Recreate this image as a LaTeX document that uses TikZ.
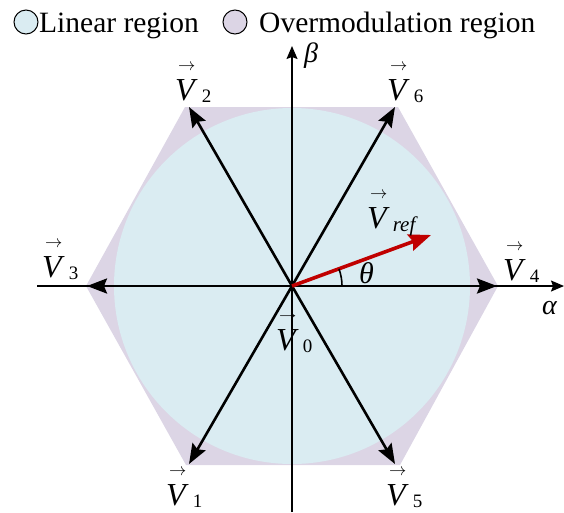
\documentclass[tikz,border=0pt]{standalone}
\usepackage{fontspec}
\setmainfont{Liberation Serif}
\usetikzlibrary{arrows.meta}
\definecolor{linblue}{RGB}{218,236,242}
\definecolor{ovpurple}{RGB}{220,213,229}
\definecolor{vred}{RGB}{192,0,0}
\newcommand\vecarrow{\rlap{\hspace{3pt}\raisebox{30pt}{\fontsize{18}{18}\selectfont$\rightarrow$}}}
\newcommand\vlab[1]{\vecarrow\textit{V}\hspace{4pt}\raisebox{-2pt}{\fontsize{19}{19}\selectfont #1}}
\begin{document}
\begin{tikzpicture}[x=1pt,y=-1pt,font=\fontsize{32}{32}\selectfont,
  vecline/.style={line width=2.6pt,-{Stealth[length=20pt,width=15pt,inset=3pt]}},
  axisline/.style={line width=1.4pt,-{Stealth[length=13pt,width=11pt,inset=2pt]}},
  lab/.style={inner sep=0pt,anchor=base west},
  legtext/.style={inner sep=0pt,anchor=base west,font=\fontsize{29.5}{30}\selectfont},
  legmark/.style={circle,draw,line width=1pt,minimum size=24pt,inner sep=0pt}]
\useasboundingbox (0,0) rectangle (564,512);
% hexagon and circle
\coordinate (O) at (292,286);
\coordinate (H4) at (498,286);
\coordinate (H6) at (398,107);
\coordinate (H2) at (185,107);
\coordinate (H3) at (86,286);
\coordinate (H1) at (186,465);
\coordinate (H5) at (400,465);
\fill[ovpurple] (H4)--(H6)--(H2)--(H3)--(H1)--(H5)--cycle;
\fill[linblue] (O) circle[radius=178];
% axes
\coordinate (AL) at (37,286);
\coordinate (AR) at (564,286);
\coordinate (BB) at (292,512);
\coordinate (BT) at (292,46);
\draw[axisline] (AL) -- (AR);
\draw[axisline] (BB) -- (BT);
% vectors
\coordinate (T4) at (497,286);
\coordinate (T3) at (87,286);
\coordinate (T2) at (189,107);
\coordinate (T6) at (395,107);
\coordinate (T1) at (189,464);
\coordinate (T5) at (395,464);
\foreach \t in {T1,T2,T3,T4,T5,T6} \draw[vecline] (O) -- (\t);
% reference vector
\coordinate (R) at (431,235);
\draw[vred,line width=3.6pt,-{Stealth[length=22pt,width=17pt,inset=3pt]}] (O) -- (R);
\coordinate (A0) at (342,286);
\draw[line width=1.6pt] (A0) arc[start angle=0,end angle=-20,radius=50];
% labels
\node[lab] (l2) at (175,100) {\vlab{2}};
\node[lab] (l6) at (387,100) {\vlab{6}};
\node[lab] (l3) at (42,277) {\vlab{3}};
\node[lab] (l4) at (503,280) {\vlab{4}};
\node[lab] (l1) at (166,505) {\vlab{1}};
\node[lab] (l5) at (386,505) {\vlab{5}};
\node[lab] (l0) at (276,350) {\vlab{0}};
\node[lab] (lr) at (367,228) {\vecarrow\textit{V}\hspace{3pt}\raisebox{-3pt}{\fontsize{21}{21}\selectfont\textit{ref}}};
\node[lab,font=\fontsize{30}{30}\selectfont] (th) at (359,283) {\textit{θ}};
\node[lab,font=\fontsize{28}{28}\selectfont] (al) at (542,314) {\textit{α}};
\node[lab,font=\fontsize{28}{28}\selectfont] (be) at (304,62) {\textit{β}};
% legend
\node[legmark,fill=linblue] (m1) at (26,22) {};
\node[legtext] (t1) at (39,32) {Linear region};
\node[legmark,fill=ovpurple] (m2) at (235,22) {};
\node[legtext] (t2) at (259,32) {Overmodulation region};
\end{tikzpicture}
\end{document}
